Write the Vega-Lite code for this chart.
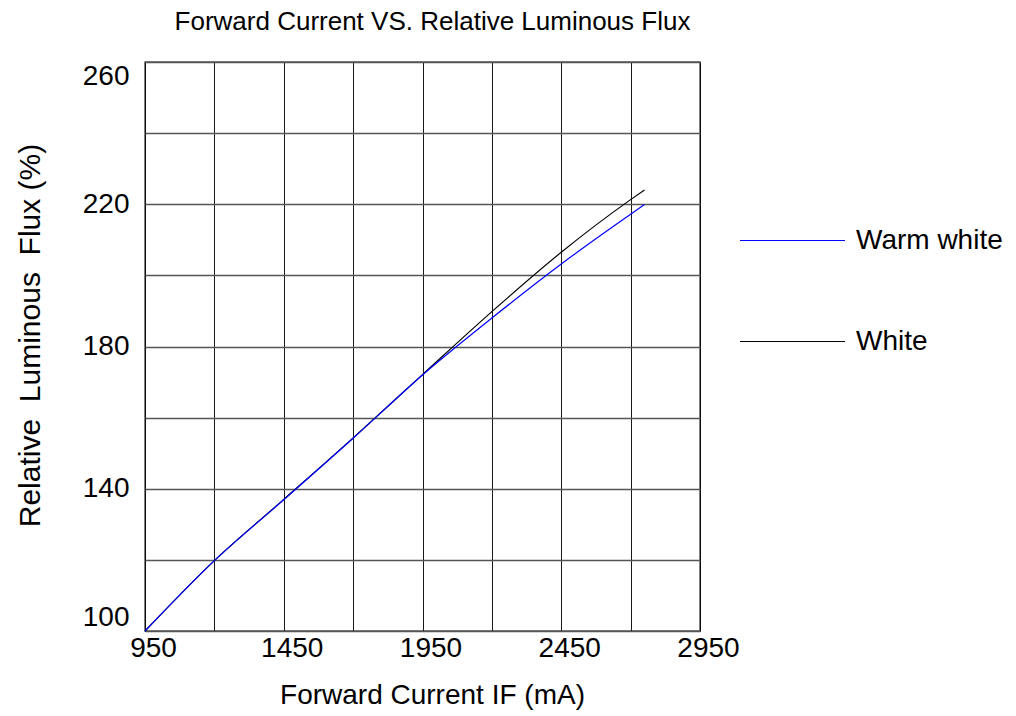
{
  "$schema": "https://vega.github.io/schema/vega-lite/v6.json",
  "width": 555,
  "height": 569,
  "autosize": {"type": "none"},
  "padding": {"left": 145, "top": 62, "right": 316, "bottom": 85},
  "background": "white",
  "config": {
    "font": "Liberation Sans",
    "view": {"stroke": "#555", "strokeWidth": 1.5}
  },
  "title": {
    "text": "Forward Current VS. Relative Luminous Flux",
    "fontSize": 26,
    "fontWeight": "normal",
    "font": "Liberation Sans",
    "color": "#000",
    "anchor": "middle",
    "dx": 10,
    "offset": 27
  },
  "data": {
    "values": [
      {"current": 950, "flux": 100, "series": "White"},
      {"current": 1200, "flux": 119.8, "series": "White"},
      {"current": 1450, "flux": 137.0, "series": "White"},
      {"current": 1700, "flux": 154.3, "series": "White"},
      {"current": 1950, "flux": 172.1, "series": "White"},
      {"current": 2200, "flux": 189.8, "series": "White"},
      {"current": 2450, "flux": 206.5, "series": "White"},
      {"current": 2700, "flux": 221.3, "series": "White"},
      {"current": 2750, "flux": 224.0, "series": "White"},
      {"current": 950, "flux": 100, "series": "Warm white"},
      {"current": 1200, "flux": 119.8, "series": "Warm white"},
      {"current": 1450, "flux": 136.9, "series": "Warm white"},
      {"current": 1700, "flux": 154.2, "series": "Warm white"},
      {"current": 1950, "flux": 172.0, "series": "Warm white"},
      {"current": 2200, "flux": 188.0, "series": "Warm white"},
      {"current": 2450, "flux": 203.2, "series": "Warm white"},
      {"current": 2700, "flux": 217.2, "series": "Warm white"},
      {"current": 2750, "flux": 219.9, "series": "Warm white"}
    ]
  },
  "mark": {"type": "line", "interpolate": "monotone", "strokeWidth": 1.2},
  "encoding": {
    "x": {
      "field": "current",
      "type": "quantitative",
      "scale": {"domain": [950, 2950], "nice": false, "zero": false},
      "axis": {
        "title": "Forward Current IF (mA)",
        "values": [950, 1200, 1450, 1700, 1950, 2200, 2450, 2700, 2950],
        "labelExpr": "(datum.value - 950) % 500 == 0 ? datum.label : ''",
        "format": "d",
        "domain": false,
        "ticks": false,
        "grid": true,
        "gridColor": "#000",
        "gridWidth": 1,
        "gridOpacity": 0.9,
        "labelFontSize": 28,
        "labelColor": "#000",
        "labelPadding": 3,
        "labelOffset": 8,
        "labelFlush": false,
        "titleFontSize": 28,
        "titleFontWeight": "normal",
        "titleColor": "#000",
        "titlePadding": 19,
        "titleX": 287,
        "labelOverlap": false
      }
    },
    "y": {
      "field": "flux",
      "type": "quantitative",
      "scale": {"domain": [100, 260], "nice": false, "zero": false},
      "axis": {
        "title": "Relative\u00a0\u00a0Luminous\u00a0\u00a0Flux (%)",
        "values": [100, 120, 140, 160, 180, 200, 220, 240, 260],
        "labelExpr": "(datum.value - 100) % 40 == 0 ? datum.label : ''",
        "domain": false,
        "ticks": false,
        "grid": true,
        "gridColor": "#555",
        "gridWidth": 1.5,
        "labelFontSize": 28,
        "labelColor": "#000",
        "labelPadding": 16,
        "labelFlush": true,
        "labelOverlap": false,
        "titleFontSize": 30,
        "titleFontWeight": "normal",
        "titleColor": "#000",
        "titleAngle": -90,
        "titleBaseline": "middle",
        "titleX": -115,
        "titleY": 273
      }
    },
    "color": {
      "field": "series",
      "type": "nominal",
      "scale": {"domain": ["Warm white", "White"], "range": ["#0000ff", "#000000"]},
      "legend": {
        "title": null,
        "orient": "none",
        "legendX": 594,
        "legendY": 125,
        "symbolType": "stroke",
        "symbolSize": 11025,
        "symbolStrokeWidth": 1.2,
        "labelFontSize": 28,
        "labelColor": "#000",
        "labelOffset": 10,
        "rowPadding": 33,
        "padding": 0
      }
    }
  }
}
